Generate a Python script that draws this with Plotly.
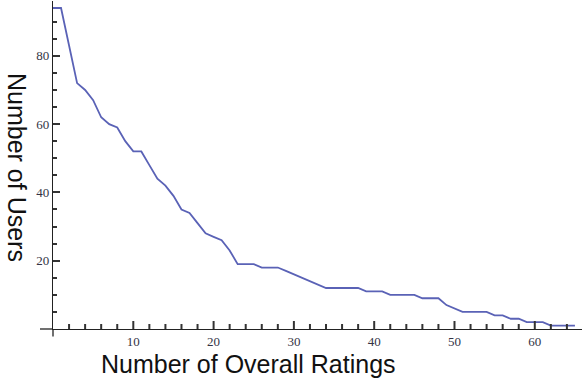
import plotly.graph_objects as go

# Number of users who gave at least N overall ratings
ratings = list(range(0, 66))
users = [
    94, 94, 83, 72, 70, 67, 62, 60, 59, 55,
    52, 52, 48, 44, 42, 39, 35, 34, 31, 28,
    27, 26, 23, 19, 19, 19, 18, 18, 18, 17,
    16, 15, 14, 13, 12, 12, 12, 12, 12, 11,
    11, 11, 10, 10, 10, 10, 9, 9, 9, 7,
    6, 5, 5, 5, 5, 4, 4, 3, 3, 2,
    2, 2, 1, 1, 1, 1,
]

x_major = [10, 20, 30, 40, 50, 60]
x_minor = [v for v in range(2, 66, 2) if v % 10 != 0]
y_major = [20, 40, 60, 80]
y_minor = [v for v in range(5, 95, 5) if v % 20 != 0]

x_range = [0, 65.88]
y_range = [0, 96.05]

W, H = 582, 383
M = dict(l=53, r=0, t=1, b=54)
plot_w = W - M["l"] - M["r"]
plot_h = H - M["t"] - M["b"]

AXIS = "#222222"
TICK = "#333333"

fig = go.Figure()
fig.add_trace(go.Scatter(
    x=ratings, y=users, mode="lines",
    line=dict(color="#5a62b6", width=1.8),
    showlegend=False, hoverinfo="skip",
))

tick_font = dict(family="Liberation Serif, Times New Roman, serif", size=13, color="#333344")

fig.update_layout(
    width=W, height=H, margin=M,
    paper_bgcolor="white", plot_bgcolor="white",
)
fig.update_xaxes(
    range=x_range, showgrid=False, zeroline=False,
    showline=True, linecolor=AXIS, linewidth=1.3,
    tickmode="array", tickvals=x_major, ticktext=[str(v) for v in x_major],
    ticks="", tickfont=tick_font,
)
fig.update_yaxes(
    range=y_range, showgrid=False, zeroline=False,
    showline=True, linecolor=AXIS, linewidth=1.3,
    tickmode="array", tickvals=y_major, ticktext=[str(v) for v in y_major],
    ticks="inside", ticklen=7, tickwidth=2, tickcolor=TICK,
    tickfont=tick_font,
    minor=dict(tickmode="array", tickvals=y_minor, ticks="inside",
               ticklen=4, tickwidth=2, tickcolor=TICK, showgrid=False),
)

# tick marks along the horizontal axis, placed on the x scale
for v in x_major:
    fig.add_shape(type="line", xref="x", yref="paper", layer="above",
                  x0=v, x1=v, y0=0, y1=8 / plot_h,
                  line=dict(color=TICK, width=2))
for v in x_minor:
    fig.add_shape(type="line", xref="x", yref="paper", layer="above",
                  x0=v, x1=v, y0=0, y1=5 / plot_h,
                  line=dict(color=TICK, width=2))

# axis lines continue a little past the origin
fig.add_shape(type="line", xref="paper", yref="paper",
              x0=-13 / plot_w, x1=0, y0=0, y1=0,
              line=dict(color=AXIS, width=1.3))
fig.add_shape(type="line", xref="paper", yref="paper",
              x0=0, x1=0, y0=-7.5 / plot_h, y1=0,
              line=dict(color=AXIS, width=1.3))


def paper_x(px):
    return (px - M["l"]) / plot_w


def paper_y(py):
    return (H - M["b"] - py) / plot_h


title_font = dict(family="Liberation Sans, Arial, Helvetica, sans-serif", size=25, color="#111111")

fig.add_annotation(
    text="Number of Overall Ratings", xref="paper", yref="paper",
    x=paper_x(248.5), y=paper_y(364), xanchor="center", yanchor="middle",
    showarrow=False, font=title_font,
)
fig.add_annotation(
    text="Number of Users", xref="paper", yref="paper",
    x=paper_x(16.5), y=paper_y(167.5), xanchor="center", yanchor="middle",
    textangle=90, showarrow=False, font=title_font,
)

fig.write_html("out.html")
